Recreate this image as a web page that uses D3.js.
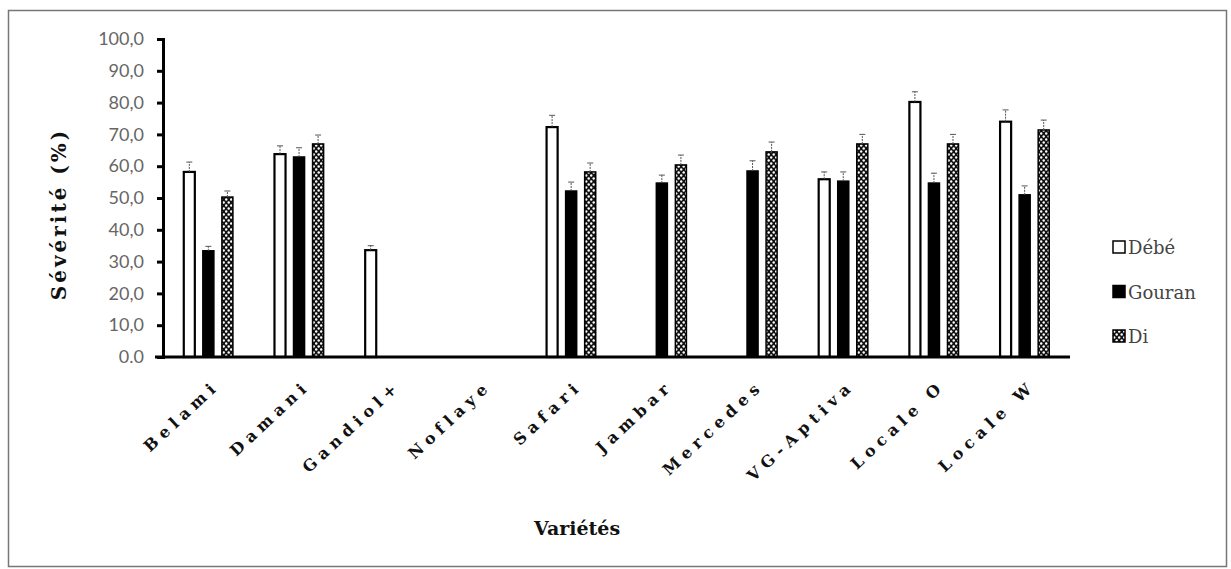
<!DOCTYPE html>
<html>
<head>
<meta charset="utf-8">
<script src="https://cdn.jsdelivr.net/npm/d3@7"></script>
<style>
  body { margin: 0; background: #fff; }
</style>
</head>
<body>
<div id="chart"></div>
<script>
// data
const varietes = ["Belami", "Damani", "Gandiol+", "Noflaye", "Safari", "Jambar", "Mercedes", "VG-Aptiva", "Locale O", "Locale W"];
const series = ["Débé", "Gouran", "Di"];
const debe   = [58.2, 63.8, 33.6, 0, 72.3, 0, 0, 55.9, 80.2, 74.0];
const gouran = [33.4, 62.9, 0, 0, 52.2, 54.7, 58.5, 55.3, 54.7, 51.0];
const di     = [50.3, 67.0, 0, 0, 58.2, 60.4, 64.5, 67.0, 67.0, 71.4];
const debeErr   = [3.1, 2.6, 1.4, 0, 3.7, 0, 0, 2.3, 3.2, 3.7];
const gouranErr = [1.4, 2.9, 0, 0, 2.8, 2.5, 3.2, 2.9, 3.1, 2.8];
const diErr     = [1.9, 2.8, 0, 0, 2.8, 3.1, 3.1, 3.0, 3.0, 3.1];
const yTicks = [0, 10, 20, 30, 40, 50, 60, 70, 80, 90, 100];

const values = [debe, gouran, di];
const errs = [debeErr, gouranErr, diErr];

const serif = "'DejaVu Serif', serif";

const W = 1231, H = 569;
const svg = d3.select("#chart").append("svg")
    .attr("width", W).attr("height", H);

// frame round the chart
svg.append("rect")
    .attr("x", 8.5).attr("y", 10.5)
    .attr("width", 1218).attr("height", 556)
    .attr("fill", "none").attr("stroke", "#777").attr("stroke-width", 1.5);

// pattern for the Di bars: black with white dots
const defs = svg.append("defs");
const pat = defs.append("pattern")
    .attr("id", "dots")
    .attr("patternUnits", "userSpaceOnUse")
    .attr("width", 5).attr("height", 6);
pat.append("rect").attr("width", 5).attr("height", 6).attr("fill", "#111");
pat.append("circle").attr("cx", 1.2).attr("cy", 1.5).attr("r", 1.2).attr("fill", "#fff");
pat.append("circle").attr("cx", 3.7).attr("cy", 4.5).attr("r", 1.2).attr("fill", "#fff");

const x0 = d3.scaleBand()
    .domain(varietes)
    .range([163, 1070])
    .paddingInner(0.37)
    .paddingOuter(0.185);

const x1 = d3.scaleBand()
    .domain(series)
    .range([0, x0.bandwidth()])
    .paddingInner(0.42)
    .paddingOuter(0.21);

const y = d3.scaleLinear()
    .domain([0, 100])
    .range([357, 39]);

const fills = { "Débé": "#fff", "Gouran": "#000", "Di": "url(#dots)" };

// bars
series.forEach((s, si) => {
    const rows = varietes.map((v, i) => ({ v: v, val: values[si][i], err: errs[si][i] }))
        .filter(d => d.val > 0);

    const g = svg.append("g").attr("class", "series");
    g.selectAll("rect")
        .data(rows)
        .enter()
        .append("rect")
        .attr("x", d => x0(d.v) + x1(s))
        .attr("y", d => y(d.val))
        .attr("width", x1.bandwidth())
        .attr("height", d => y(0) - y(d.val))
        .attr("fill", fills[s])
        .attr("stroke", "#000")
        .attr("stroke-width", s === "Débé" ? 2.2 : 1.5);

    // error bars
    g.selectAll("line.err")
        .data(rows)
        .enter()
        .append("line")
        .attr("class", "err")
        .attr("x1", d => x0(d.v) + x1(s) + x1.bandwidth() / 2)
        .attr("x2", d => x0(d.v) + x1(s) + x1.bandwidth() / 2)
        .attr("y1", d => y(d.val))
        .attr("y2", d => y(d.val + d.err))
        .attr("stroke", "#555").attr("stroke-width", 1)
        .attr("stroke-dasharray", "2,1");
    g.selectAll("line.cap")
        .data(rows)
        .enter()
        .append("line")
        .attr("class", "cap")
        .attr("x1", d => x0(d.v) + x1(s) + x1.bandwidth() / 2 - 3)
        .attr("x2", d => x0(d.v) + x1(s) + x1.bandwidth() / 2 + 3)
        .attr("y1", d => y(d.val + d.err))
        .attr("y2", d => y(d.val + d.err))
        .attr("stroke", "#555").attr("stroke-width", 1);
});

// y axis
const yAxis = d3.axisLeft(y)
    .tickValues(yTicks)
    .tickSize(6)
    .tickPadding(13)
    .tickFormat(d => d === 0 ? "0.0" : d3.format(".1f")(d).replace(".", ","));

const gy = svg.append("g")
    .attr("transform", "translate(163,0)")
    .call(yAxis)
    .attr("font-family", null);
gy.select(".domain").attr("stroke", "#000").attr("stroke-width", 3);
gy.selectAll(".tick line").attr("stroke", "#000").attr("stroke-width", 3);
gy.selectAll(".tick text")
    .attr("font-family", "Lato, sans-serif")
    .attr("font-size", 18)
    .attr("fill", "#666");

// x axis
const gx = svg.append("g")
    .attr("transform", "translate(0,357)")
    .call(d3.axisBottom(x0).tickSize(0).tickSizeOuter(0))
    .attr("font-family", serif);
gx.select(".domain").attr("stroke", "#000").attr("stroke-width", 3)
    .attr("d", "M155,0H1070");
gx.selectAll(".tick text")
    .attr("font-family", serif)
    .attr("font-weight", "bold")
    .attr("font-size", 16)
    .attr("letter-spacing", 5.5)
    .attr("fill", "#111")
    .attr("text-anchor", "end")
    .attr("dy", 0)
    .attr("transform", "translate(10,28) rotate(-43)");

// axis titles
svg.append("text")
    .attr("transform", "translate(66,214) rotate(-90)")
    .attr("text-anchor", "middle")
    .attr("font-family", serif)
    .attr("font-weight", "bold")
    .attr("font-size", 20)
    .attr("letter-spacing", 3)
    .attr("fill", "#111")
    .text("Sévérité (%)");

svg.append("text")
    .attr("x", 577).attr("y", 535)
    .attr("text-anchor", "middle")
    .attr("font-family", serif)
    .attr("font-weight", "bold")
    .attr("font-size", 19)
    .attr("fill", "#111")
    .text("Variétés");

// legend
const legend = svg.append("g").attr("transform", "translate(1113,241)");
series.forEach((s, i) => {
    const row = legend.append("g").attr("transform", "translate(0," + (i * 44.5) + ")");
    row.append("rect")
        .attr("x", 0).attr("y", 0)
        .attr("width", 12).attr("height", 12)
        .attr("fill", fills[s])
        .attr("stroke", "#000").attr("stroke-width", 1.5);
    row.append("text")
        .attr("x", 15).attr("y", 13)
        .attr("font-family", serif)
        .attr("font-size", 18)
        .attr("fill", "#444")
        .text(s);
});
</script>
</body>
</html>
